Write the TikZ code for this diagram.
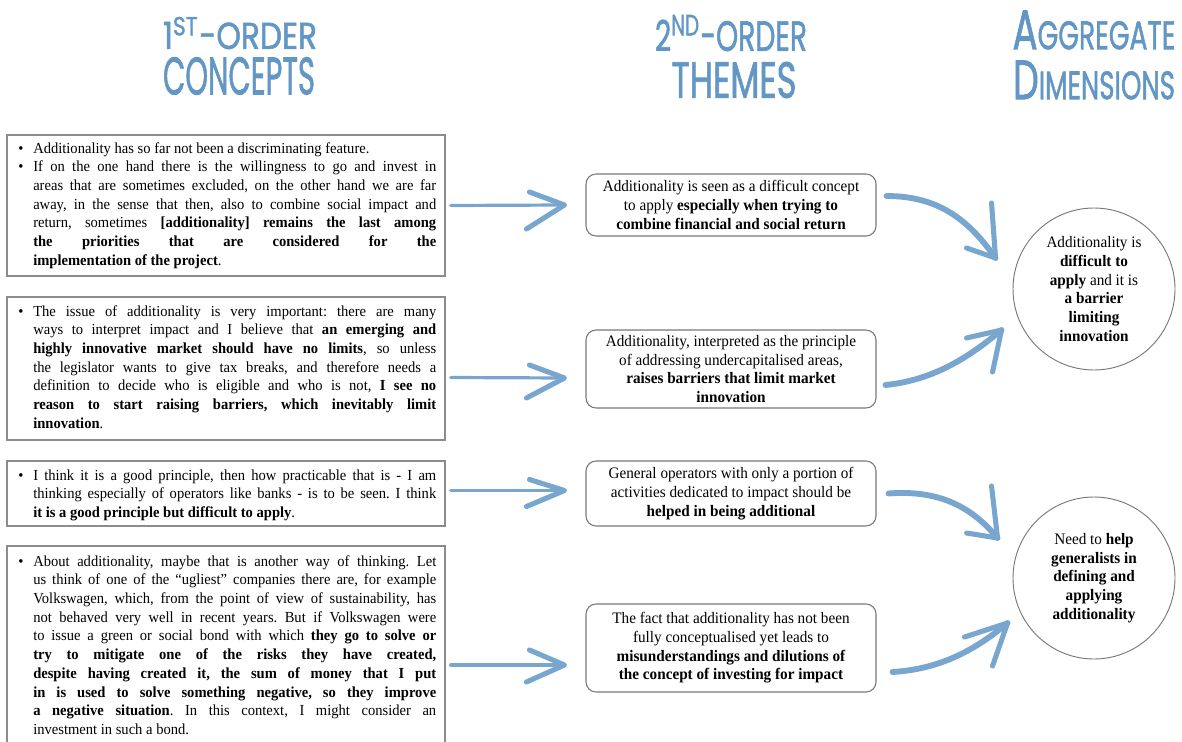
\documentclass[tikz,border=0pt]{standalone}
\usepackage{fontspec}
\setmainfont{Liberation Serif}[FakeStretch=0.95]
\newfontfamily\handfont{Poppins}[FakeBold=1.6]
\usetikzlibrary{calc}

\definecolor{inkblue}{RGB}{98,150,197}
\definecolor{brushblue}{RGB}{120,166,206}
\definecolor{boxgray}{RGB}{140,140,140}
\definecolor{roundgray}{RGB}{120,120,120}

% larger initial capital in the headings
\newcommand\hdinitial[1]{{\fontsize{14pt}{14pt}\selectfont #1}}

\begin{document}
\begin{tikzpicture}[x=0.75pt,y=-0.75pt,
  bodyfont/.style={font=\fontsize{11.5pt}{14.06pt}\selectfont\frenchspacing},
  roundfont/.style={font=\fontsize{12pt}{14.06pt}\selectfont\frenchspacing},
  hdr/.style={inner sep=0pt, text=inkblue, font=\handfont},
  quotebox/.style={draw=boxgray, line width=1.1pt, rectangle, inner sep=0pt, minimum width=328.5pt},
  quotetext/.style={bodyfont, anchor=base west, text width=302.25pt, inner sep=0pt, align=justify},
  bulletmark/.style={bodyfont, anchor=base west, inner sep=0pt},
  theme/.style={roundfont, draw=roundgray, line width=0.8pt, rounded corners=7.5pt, align=center,
                minimum width=217.5pt, inner sep=0pt},
  dimension/.style={roundfont, circle, draw=roundgray, line width=0.7pt, minimum size=121.5pt,
                    inner sep=0pt, align=center},
  brush/.style={draw=brushblue, line width=3.8pt, line cap=round, line join=round},
  thickbrush/.style={brush, line width=4.4pt},
  thinbrush/.style={brush, line width=2.4pt}]

\useasboundingbox (0,0) rectangle (1182,742);

% column headings
\node[hdr] (H1a) at (240,33) {\resizebox{115.5pt}{24pt}{1\textsuperscript{ST}-ORDER}};
\node[hdr] (H1b) at (239,76) {\resizebox{114pt}{28pt}{CONCEPTS}};
\node[hdr] (H2a) at (731,33) {\resizebox{114pt}{27pt}{2\textsuperscript{ND}-ORDER}};
\node[hdr] (H2b) at (734,80) {\resizebox{93.75pt}{27pt}{THEMES}};
\node[hdr] (H3a) at (1094,30) {\resizebox{122.25pt}{29pt}{\hdinitial{A}GGREGATE}};
\node[hdr] (H3b) at (1094,80) {\resizebox{121.5pt}{29pt}{\hdinitial{D}IMENSIONS}};

% first-order concepts: frames
\node[quotebox, minimum height=105.75pt] (L1) at (226,205.5) {};
\node[quotebox, minimum height=107.25pt] (L2) at (226,368.5) {};
\node[quotebox, minimum height=48.75pt]  (L3) at (226,493.5) {};
\node[quotebox, minimum height=160.5pt]  (L4) at (226,653) {};

% first-order concepts: bullets and quotations
\node[bulletmark] (B1a) at (18,153) {\textbullet};
\node[quotetext] (L1a) at (33,153) {Additionality has so far not been a discriminating feature.};
\node[bulletmark] (B1b) at (18,171.75) {\textbullet};
\node[quotetext] (L1b) at (33,171.75) {If on the one hand there is the willingness to go and invest in\linebreak
areas that are sometimes excluded, on the other hand we are far\linebreak
away, in the sense that then, also to combine social impact and\linebreak
return, sometimes \textbf{[additionality] remains the last among\linebreak
the priorities that are considered for the\linebreak
implementation of the project}.};

\node[bulletmark] (B2) at (18,316) {\textbullet};
\node[quotetext] (L2t) at (33,316) {The issue of additionality is very important: there are many\linebreak
ways to interpret impact and I believe that \textbf{an emerging and\linebreak
highly innovative market should have no limits}, so unless\linebreak
the legislator wants to give tax breaks, and therefore needs a\linebreak
definition to decide who is eligible and who is not, \textbf{I see no\linebreak
reason to start raising barriers, which inevitably limit\linebreak
innovation}.};

\node[bulletmark] (B3) at (18,480) {\textbullet};
\node[quotetext] (L3t) at (33,480) {I think it is a good principle, then how practicable that is - I am\linebreak
thinking especially of operators like banks - is to be seen. I think\linebreak
\textbf{it is a good principle but difficult to apply}.};

\node[bulletmark] (B4) at (18,566) {\textbullet};
\node[quotetext] (L4t) at (33,566) {About additionality, maybe that is another way of thinking. Let\linebreak
us think of one of the “ugliest” companies there are, for example\linebreak
Volkswagen, which, from the point of view of sustainability, has\linebreak
not behaved very well in recent years. But if Volkswagen were\linebreak
to issue a green or social bond with which \textbf{they go to solve or\linebreak
try to mitigate one of the risks they have created,\linebreak
despite having created it, the sum of money that I put\linebreak
in is used to solve something negative, so they improve\linebreak
a negative situation}. In this context, I might consider an\linebreak
investment in such a bond.};

% second-order themes
\node[theme, minimum height=46.5pt] (M1) at (731,205) {Additionality is seen as a difficult concept\\
to apply \textbf{especially when trying to}\\ \textbf{combine financial and social return}};
\node[theme, minimum height=58.5pt] (M2) at (731,369) {Additionality, interpreted as the principle\\
of addressing undercapitalised areas,\\ \textbf{raises barriers that limit market}\\ \textbf{innovation}};
\node[theme, minimum height=48.75pt] (M3) at (731,493.5) {General operators with only a portion of\\
activities dedicated to impact should be\\ \textbf{helped in being additional}};
\node[theme, minimum height=66pt] (M4) at (731,648) {The fact that additionality has not been\\
fully conceptualised yet leads to\\ \textbf{misunderstandings and dilutions of}\\ \textbf{the concept of investing for impact}};

% aggregate dimensions
\node[dimension] (C1) at (1094,289) {Additionality is\\ \textbf{difficult to}\\ \textbf{apply} and it is\\
\textbf{a barrier}\\ \textbf{limiting}\\ \textbf{innovation}};
\node[dimension] (C2) at (1094,578) {Need to \textbf{help}\\ \textbf{generalists in}\\ \textbf{defining and}\\
\textbf{applying}\\ \textbf{additionality}};

% straight arrows: concepts to themes
\draw[thinbrush] ($(L1.east)+(5,0)$) -- ($(M1.west)+(-21,0)$) coordinate (t1);
\draw[brush] ($(t1)+(-35,-13)$) -- (t1) -- ($(t1)+(-38,24)$);
\draw[thinbrush] ($(L2.east)+(5,9)$) -- ($(M2.west)+(-21,9)$) coordinate (t2);
\draw[brush] ($(t2)+(-35,-13)$) -- (t2) -- ($(t2)+(-38,20)$);
\draw[thinbrush] ($(L3.east)+(5,-3)$) -- ($(M3.west)+(-21,-3)$) coordinate (t3);
\draw[brush] ($(t3)+(-35,-11)$) -- (t3) -- ($(t3)+(-38,16)$);
\draw[thinbrush] ($(L4.east)+(5,12)$) -- ($(M4.west)+(-21,17)$) coordinate (t4);
\draw[brush] ($(t4)+(-35,-15)$) -- (t4) -- ($(t4)+(-38,17)$);

% curved arrows: themes to dimensions
\coordinate (h1) at ($(C1.west)+(-17,-31)$);
\draw[thickbrush] ($(M1.east)+(10,-9)$) .. controls +(55,0) and +(-25,-35) .. (h1);
\draw[brush] ($(h1)+(-4,-55)$) -- (h1) -- ($(h1)+(-29,-10)$);

\coordinate (h2) at ($(C1.west)+(-11,41)$);
\draw[thickbrush] ($(M2.east)+(9,16)$) .. controls +(50,-5) and +(-30,25) .. (h2);
\draw[brush] ($(h2)+(-9,42)$) -- (h2) -- ($(h2)+(-35,8)$);

\coordinate (h3) at ($(C2.west)+(-15,-40)$);
\draw[thickbrush] ($(M3.east)+(12,0)$) .. controls +(52,-4) and +(-25,-30) .. (h3);
\draw[brush] ($(h3)+(-6,-52)$) -- (h3) -- ($(h3)+(-31,-5)$);

\coordinate (h4) at ($(C2.west)+(-5,45)$);
\draw[thickbrush] ($(M4.east)+(16,24)$) .. controls +(50,-3) and +(-30,25) .. (h4);
\draw[brush] ($(h4)+(-15,43)$) -- (h4) -- ($(h4)+(-43,14)$);

\end{tikzpicture}
\end{document}
